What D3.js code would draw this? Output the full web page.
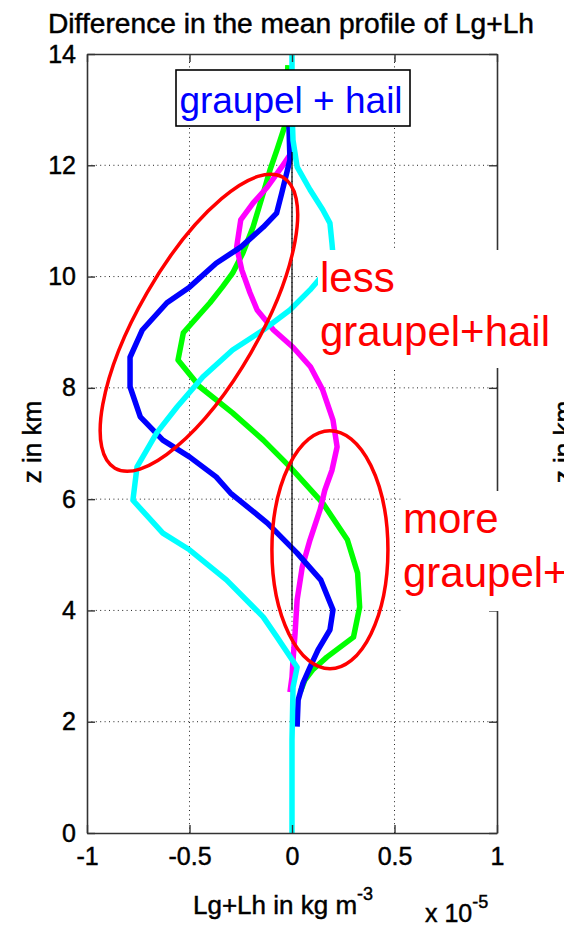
<!DOCTYPE html>
<html>
<head>
<meta charset="utf-8">
<script src="https://cdn.jsdelivr.net/npm/d3@7"></script>
<style>
  html, body { margin: 0; padding: 0; background: #fff; }
  svg { display: block; font-family: "Liberation Sans", Arial, Helvetica, sans-serif; }
  .ink { stroke: #000; stroke-width: 0.45px; }
</style>
</head>
<body>
<svg id="chart" width="564" height="930"></svg>
<script>
// Difference profiles of graupel + hail mixing ratio, [value (x 1e-5 kg m^-3), height km]
const blueProfile = [
  [-0.005, 13.0], [-0.015, 12.71], [-0.01, 12.10], [-0.05, 11.50], [-0.075, 11.14],
  [-0.14, 10.89], [-0.25, 10.53], [-0.37, 10.24], [-0.50, 9.81], [-0.61, 9.53],
  [-0.73, 9.04], [-0.79, 8.55], [-0.79, 8.02], [-0.74, 7.48], [-0.63, 7.06],
  [-0.50, 6.76], [-0.37, 6.40], [-0.30, 6.11], [-0.12, 5.57], [0.025, 5.03],
  [0.14, 4.55], [0.20, 4.01], [0.185, 3.65], [0.127, 3.29], [0.088, 2.98],
  [0.054, 2.70], [0.03, 2.39], [0.025, 1.91]
];
const greenProfile = [
  [-0.02, 13.80], [-0.035, 12.71], [-0.073, 12.28], [-0.107, 11.92], [-0.14, 11.50],
  [-0.19, 10.89], [-0.24, 10.42], [-0.29, 10.06], [-0.34, 9.81], [-0.40, 9.53],
  [-0.53, 8.99], [-0.556, 8.50], [-0.45, 8.02], [-0.29, 7.55], [-0.14, 7.06],
  [-0.01, 6.58], [0.15, 5.93], [0.27, 5.27], [0.32, 4.67], [0.33, 4.06],
  [0.30, 3.52], [0.17, 3.16], [0.10, 2.93], [0.063, 2.75], [0.04, 2.53]
];
const magentaProfile = [
  [-0.01, 12.19], [-0.05, 11.97], [-0.12, 11.61], [-0.19, 11.32], [-0.25, 11.02],
  [-0.27, 10.53], [-0.245, 10.12], [-0.205, 9.71], [-0.17, 9.40], [-0.09, 9.04],
  [0.005, 8.73], [0.09, 8.38], [0.15, 7.96], [0.20, 7.42], [0.22, 6.94],
  [0.195, 6.52], [0.16, 6.16], [0.137, 5.81], [0.088, 5.27], [0.05, 4.78],
  [0.025, 4.19], [0.015, 3.59], [0.005, 3.11], [0.0, 2.80], [-0.01, 2.53]
];
const cyanProfile = [
  [0.0, 14.0], [0.0, 12.99], [0.005, 12.45], [0.025, 11.97], [0.088, 11.56],
  [0.15, 11.20], [0.185, 10.96], [0.195, 10.60], [0.20, 10.39], [0.137, 9.97],
  [0.088, 9.76], [-0.01, 9.40], [-0.14, 9.04], [-0.29, 8.68], [-0.434, 8.20],
  [-0.56, 7.66], [-0.66, 7.19], [-0.756, 6.58], [-0.776, 5.98], [-0.63, 5.39],
  [-0.50, 5.09], [-0.32, 4.55], [-0.14, 3.88], [-0.073, 3.52], [0.025, 2.98],
  [0.005, 2.62], [0.0, 1.67], [0.0, 0.0]
];
// reference line at zero
const zeroLine = [[0, 4.0], [0, 12.24]];

const xTicks = [-1, -0.5, 0, 0.5, 1];
const xTickLabels = ["-1", "-0.5", "0", "0.5", "1"];
const yTicks = [0, 2, 4, 6, 8, 10, 12, 14];

const svg = d3.select("#chart");
const plotLeft = 87, plotRight = 497, plotTop = 54, plotBottom = 833;

const x = d3.scaleLinear().domain([-1, 1]).range([plotLeft, plotRight]);
const y = d3.scaleLinear().domain([0, 14]).range([plotBottom, plotTop]);

// grid
const grid = svg.append("g").attr("stroke", "#222").attr("stroke-width", 1)
  .attr("stroke-dasharray", "1,3.4");
grid.selectAll("line.gx").data(xTicks.slice(1, -1)).join("line").attr("class", "gx")
  .attr("x1", d => x(d)).attr("x2", d => x(d)).attr("y1", plotBottom).attr("y2", plotTop);
grid.selectAll("line.gy").data(yTicks.slice(1, -1)).join("line").attr("class", "gy")
  .attr("x1", plotLeft).attr("x2", plotRight).attr("y1", d => y(d)).attr("y2", d => y(d));

// profiles
const line = d3.line().x(d => x(d[0])).y(d => y(d[1]));
const series = [
  { data: greenProfile, color: "#00ff00" },
  { data: magentaProfile, color: "#ff00ff" },
  { data: blueProfile, color: "#0000ff" },
  { data: cyanProfile, color: "#00ffff" }
];
svg.append("g").selectAll("path").data(series).join("path")
  .attr("d", d => line(d.data))
  .attr("fill", "none")
  .attr("stroke", d => d.color)
  .attr("stroke-width", 5.5)
  .attr("stroke-linejoin", "round");

svg.append("path").attr("d", line(zeroLine))
  .attr("stroke", "#000").attr("stroke-width", 1.2).attr("fill", "none");

// axes
const fontSize = 25;
const axB = svg.append("g").attr("transform", `translate(0,${plotBottom})`)
  .call(d3.axisBottom(x).tickValues(xTicks).tickFormat((d, i) => xTickLabels[i])
    .tickSizeInner(-8).tickSizeOuter(0).tickPadding(14));
const axT = svg.append("g").attr("transform", `translate(0,${plotTop})`)
  .call(d3.axisTop(x).tickValues(xTicks).tickFormat("").tickSizeInner(-8).tickSizeOuter(0));
const axL = svg.append("g").attr("transform", `translate(${plotLeft},0)`)
  .call(d3.axisLeft(y).tickValues(yTicks).tickSizeInner(-8).tickSizeOuter(0).tickPadding(11));
const axR = svg.append("g").attr("transform", `translate(${plotRight},0)`)
  .call(d3.axisRight(y).tickValues(yTicks).tickFormat("").tickSizeInner(-8).tickSizeOuter(0));
[axB, axT, axL, axR].forEach(a => {
  a.select(".domain").attr("stroke", "#333").attr("stroke-width", 1.6);
  a.selectAll(".tick line").attr("stroke", "#333").attr("stroke-width", 1.4);
  a.selectAll(".tick text").attr("font-size", fontSize).attr("fill", "#000")
    .attr("class", "ink")
    .attr("font-family", "Liberation Sans, Arial, sans-serif");
});

// legend box
const lg = svg.append("g");
lg.append("rect").attr("x", 176).attr("y", 70).attr("width", 234).attr("height", 56)
  .attr("fill", "#fff").attr("stroke", "#000").attr("stroke-width", 1.6);
lg.append("text").attr("x", 291).attr("y", 113).attr("text-anchor", "middle")
  .attr("font-size", 37).attr("fill", "#0000ff").text("graupel + hail");

// annotations
const red = "#ff0000";
svg.append("ellipse")
  .attr("transform", `translate(${x(-0.454)},${y(9.17)}) rotate(-60)`)
  .attr("rx", 168).attr("ry", 60)
  .attr("fill", "none").attr("stroke", red).attr("stroke-width", 3.5);
svg.append("ellipse")
  .attr("cx", x(0.185)).attr("cy", y(5.09)).attr("rx", 58).attr("ry", 119)
  .attr("fill", "none").attr("stroke", red).attr("stroke-width", 3.5);

function note(x0, y0, lines, boxW, boxH) {
  const g = svg.append("g");
  g.append("rect").attr("x", x0 - 2).attr("y", y0 - 42).attr("width", boxW).attr("height", boxH)
    .attr("fill", "#fff");
  const t = g.append("text").attr("font-size", 42).attr("fill", red);
  lines.forEach((s, i) => t.append("tspan").attr("x", x0).attr("y", y0 + i * 54).text(s));
}
note(320, 292, ["less", "graupel+hail"], 244, 118);
note(403, 533, ["more", "graupel+"], 170, 120);

// titles
svg.append("text").attr("x", 291).attr("y", 33).attr("text-anchor", "middle")
  .attr("font-size", 27).attr("class", "ink")
  .attr("textLength", 486).attr("lengthAdjust", "spacingAndGlyphs")
  .text("Difference in the mean profile of Lg+Lh");
svg.append("text").attr("transform", `translate(41,442) rotate(-90)`)
  .attr("text-anchor", "middle").attr("font-size", 26).attr("class", "ink").text("z in km");
svg.append("text").attr("transform", `translate(572,442) rotate(-90)`)
  .attr("text-anchor", "middle").attr("font-size", 26).attr("class", "ink").text("z in km");

const xl = svg.append("text").attr("x", 193).attr("y", 914).attr("font-size", 26).attr("class", "ink");
xl.append("tspan").text("Lg+Lh in kg m");
xl.append("tspan").attr("dy", -14).attr("font-size", 18).text("-3");
const xs = svg.append("text").attr("x", 425).attr("y", 922).attr("font-size", 25).attr("class", "ink");
xs.append("tspan").text("x 10");
xs.append("tspan").attr("dy", -14).attr("font-size", 18).text("-5");
</script>
</body>
</html>
